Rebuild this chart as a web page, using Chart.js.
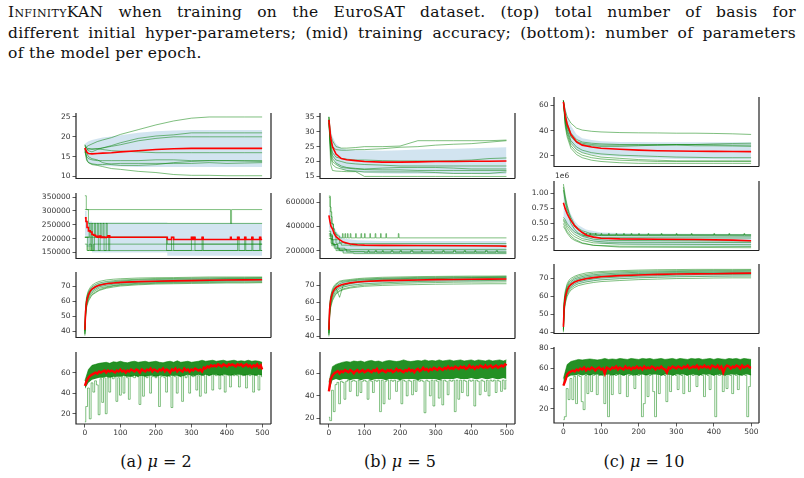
<!DOCTYPE html>
<html>
<head>
<meta charset="utf-8">
<script src="https://cdn.jsdelivr.net/npm/chart.js@4.4.0/dist/chart.umd.min.js"></script>
<style>
body { margin:0; width:804px; height:478px; background:#fff; position:relative; overflow:hidden; font-family:"DejaVu Serif", serif; color:#111; }
#cap { position:absolute; left:8px; top:2px; width:788px; font-size:15.5px; line-height:20.5px; letter-spacing:0.3px; }
#cap div { white-space:nowrap; }
#cap .j { text-align:justify; text-align-last:justify; }
.sc { font-variant:small-caps; }
.sub { position:absolute; top:452px; width:160px; text-align:center; font-size:16px; }
canvas { position:absolute; }
</style>
</head>
<body>
<div id="cap">
  <div class="j"><span class="sc">Infinity</span>KAN when training on the EuroSAT dataset. (top) total number of basis for</div>
  <div class="j">different initial hyper-parameters; (mid) training accuracy; (bottom): number of parameters</div>
  <div>of the model per epoch.</div>
</div>
<div class="sub" style="left:76px">(a) <i>μ</i> = 2</div>
<div class="sub" style="left:320px">(b) <i>μ</i> = 5</div>
<div class="sub" style="left:564px">(c) <i>μ</i> = 10</div>

<script>
//////////////////////////////// epochs \\\\\\\\\\\\\\\\\\\\\\\\\\\\\\\\
var EP = [0,5,10,20,35,50,75,100,150,200,250,300,350,400,450,499];
var EA = [0,2,5,10,15,20,30,40,60,80,100,150,200,250,300,350,400,450,499];
var E5 = [];
for (var i = 0; i < 100; i++) E5.push(i * 5);
E5.push(499);
var E10 = [];
for (i = 0; i < 50; i++) E10.push(i * 10);
E10.push(499);

var xTicks = [0,100,200,300,400,500];

//////////////////////////////// (a) mu = 2 \\\\\\\\\\\\\\\\\\\\\\\\\\\\\\\\
// basis
var a1_mean = [17.2,16.2,15.8,15.7,15.8,15.9,16.0,16.2,16.5,16.8,17.0,17.1,17.1,17.1,17.1,17.1];
var a1_hi = [18.2,18.6,18.9,19.2,19.5,19.8,20.1,20.4,21.0,21.4,21.6,21.7,21.7,21.7,21.7,21.7];
var a1_lo = [16.2,14.2,13.5,13.0,12.8,12.7,12.6,12.5,12.4,12.4,12.4,12.4,12.4,12.4,12.4,12.4];
var a1_runs = [
  [17,17.5,17.8,18.2,18.8,19.2,19.8,20.6,21.8,23,24,24.7,25,25,25,25],
  [17.5,17.2,16.5,16.2,16.8,17.2,17.8,18.5,19.6,20.2,20.5,21,21,21,21,21],
  [18,17.2,17,16.8,17,17.2,17.6,18,19,19.6,20,20,20,20,20,20],
  [16,16.5,17,17,17,16.8,16.5,16.4,16.2,16,16,16,16,16,16,16],
  [17,15,14.5,14.2,14,14,14,14,14,14.2,14.2,14,14,14,13.9,13.8],
  [16.5,14,13.5,13.2,13,13,13.2,13.3,13.3,13.3,13.3,13.3,13.5,13.3,13.4,13.5],
  [17,14.5,13.5,13,12.8,12.5,12,11.8,11.3,11,10.5,10.3,10.3,10.2,10.2,10.2],
  [18,16,15,14.5,14.2,13.5,13,12.8,12.8,13,13.5,13.8,14,14,14,14]
];
// parameters [epoch, value]
var a2_mean = [[0,275000],[3,262000],[6,240000],[10,228000],[15,224000],[20,215000],[25,212000],[30,208000],[35,205000],[40,209000],[45,204000],[50,206000],[55,204000],[60,205000],[65,210000],[70,205000],[232,197000],[244,205000],[250,197000],[300,205000],[303,197000],[307,205000],[310,197000],[330,205000],[333,197000],[410,205000],[412,197000],[430,205000],[434,197000],[450,205000],[453,197000],[470,205000],[473,197000],[492,205000],[495,197000],[499,197000]];
var a2_hi = [[0,300000],[5,262000],[20,258000],[232,256000],[499,255000]];
var a2_lo = [[0,210000],[5,170000],[20,150000],[232,138000],[499,138000]];
var a2_runs = [
  [[0,355000],[4,305000],[410,255000],[413,305000],[499,305000]],
  [[0,305000],[10,255000],[499,255000]],
  [[0,205000],[12,255000],[15,157000],[19,255000],[22,157000],[27,255000],[30,205000],[35,255000],[38,157000],[43,255000],[46,205000],[51,255000],[54,157000],[60,255000],[63,205000],[67,157000],[70,205000],[232,180000],[499,180000]],
  [[0,205000],[8,157000],[12,180000],[18,157000],[24,180000],[499,180000]],
  [[0,180000],[6,157000],[244,205000],[250,157000],[300,205000],[310,157000],[330,205000],[333,157000],[430,205000],[434,157000],[450,205000],[453,157000],[470,205000],[473,157000],[492,205000],[495,157000],[499,157000]],
  [[0,205000],[230,157000],[499,157000]]
];
// training accuracy
var a3_mean = [41,53,60,64,66.5,68,69.5,70.5,71.5,72,72.4,72.9,73.2,73.4,73.6,73.8,74,74.1,74.2];
var a3_hi = [44,56,62.5,66,68,69.5,71,72,73,73.5,73.9,74.4,74.7,74.9,75.1,75.3,75.5,75.6,75.7];
var a3_lo = [38,50,57.5,62,64.5,66,67.5,68.8,69.8,70.4,70.9,71.5,71.8,72,72.2,72.3,72.5,72.6,72.7];
var a3_runs = [
  [42,57,63,67,69,70.5,72,73,74,74.5,74.8,75.3,75.5,75.6,75.8,76,76,76,76],
  [40,55,62,66,68,69.5,71,72,73,73.5,74,74.5,75,75,75.2,75.4,75.5,75.5,75.6],
  [41,54,61,65,67,68.5,70,71,72,72.8,73.3,74,74.3,74.5,74.6,74.8,75,75,75.1],
  [39,53,60,64,66,67.5,69,70.5,71.5,72,72.5,73,73.5,73.8,74,74.3,74.5,74.5,74.6],
  [38,52,59,63,65,66.5,68,69.5,70.5,71.2,71.8,72.5,73,73.2,73.5,73.6,73.8,74,74],
  [40,51,58,62,64,65.5,67,68.5,69.5,70.3,71,71.8,72.3,72.5,72.8,73,73.2,73.3,73.3],
  [37,50,57,61,63,64.5,66,67.5,69,70,70.5,71.3,71.8,72,72.2,72.3,72.5,72.5,72.6],
  [38,49,56,60,62,64,65.5,67,68.5,69.3,70,70.8,71.3,71.5,71.7,71.8,72,72,72.2]
];
// bottom row, every 5 epochs
var a4_mean = [47,52,55,57,58,59,60,59,61,60, 61,62,60,62,61,62,61,60,62,61, 63,61,62,60,62,61,63,62,61,63,
  62,60,63,62,61,63,62,64,61,63, 62,61,63,62,64,61,63,62,60,63, 62,64,61,63,62,61,64,62,63,61,
  63,62,64,63,62,63,61,65,64,66, 65,67,66,67,66,68,67,66,68,67, 66,68,67,68,67,66,68,67,68,66,
  67,68,66,67,65,67,66,68,65,67,63];
var a4_dips = [12,27,45,15,50,41,52,48,19,54, 31,55,20,55,41,56,54,56,32,55, 38,56,40,57,55,34,57,56,55,57,
  56,29,57,37,57,55,57,40,56,57, 55,57,27,56,57,55,41,57,56,26, 57,56,40,57,56,32,57,55,57,40,
  57,56,57,43,57,37,58,57,40,58, 57,58,43,58,57,58,44,58,57,41, 58,57,46,58,57,58,57,46,58,57,
  58,45,58,57,58,41,58,57,43,58,56];
// every 10 epochs
var a4_top = [52,63,67,68,69,69.5,70,69,70.5,70, 71,70,69.5,70.5,71,70,70.5,71,70,70.5, 71,70,69.5,70.5,71,70,71.5,70,70.5,71,
  70,70.5,71,72,71,71.5,72,71,71.5,72, 71,71.5,72,71,71.5,71,72,71,71.5,71,70];
var a4_low = [44,50,53,54,55,55,56,55,56,56, 56,57,56,56,57,56,57,56,57,57, 56,57,57,56,57,57,57,56,57,58,
  57,57,58,57,58,57,58,58,57,58, 58,57,58,58,58,57,58,58,57,58,57];

//////////////////////////////// (b) mu = 5 \\\\\\\\\\\\\\\\\\\\\\\\\\\\\\\\
var b1_mean = [34,28,25,22.5,21,20.6,20.3,20,19.8,19.8,19.9,20,20,20.1,20.1,20.2];
var b1_hi = [35,31,28.5,26,24.5,24,23.8,23.7,23.6,23.8,24,24.2,24.3,24.5,24.6,24.8];
var b1_lo = [33,24.5,21.5,19,17.5,16.8,16.5,16.2,16,15.9,15.9,15.9,15.8,15.8,15.7,15.7];
var b1_runs = [
  [35,29,27,25,24.5,24.5,24.7,25,25,25.2,27,27,27,27,27,27.2],
  [35,27,25,24,23.8,23.8,24,24,24.3,24.8,25,25.5,25.8,26,26.5,27],
  [34,26,23,21.5,21,20.8,20.5,20.5,20.3,20.2,20.2,20.2,20.3,20.5,21,21.2],
  [33,25,22,20.5,20,19.5,19.2,19,18.8,18.5,18.5,18.5,18.5,18.5,18.5,18.5],
  [34,24,21,19.5,18.5,18,17.7,17.5,17.8,18,18,18,17.8,17.5,17.5,17.5],
  [33,23,20,19,18,17.8,17.5,17.3,17.2,17.2,17,17,17,17,17,17],
  [34,22,19,18,17.5,17,16.8,16.5,16.5,16.5,16.5,16.3,16,16,16,16.5],
  [35,19,17,16.8,16.7,16.6,16.6,15,15,15,15,15,15,15,15,15]
];
var b2_mean = [[0,490000],[3,440000],[6,400000],[10,380000],[15,340000],[20,315000],[30,290000],[40,270000],[60,255000],[80,248000],[100,245000],[150,243000],[250,242000],[400,240000],[480,238000],[499,235000]];
var b2_hi = [[0,560000],[5,480000],[10,420000],[20,360000],[40,300000],[80,285000],[150,280000],[499,280000]];
var b2_lo = [[0,400000],[5,300000],[10,250000],[20,210000],[40,185000],[80,175000],[150,173000],[499,172000]];
var b2_runs = [
  [[0,640000],[3,560000],[6,480000],[9,420000],[12,380000],[16,350000],[20,330000],[25,320000],[30,305000],[38,340000],[40,305000],[45,340000],[47,305000],[52,340000],[54,305000],[60,340000],[62,305000],[75,340000],[77,305000],[90,340000],[92,305000],[100,340000],[102,305000],[115,340000],[117,305000],[130,340000],[132,305000],[145,340000],[147,305000],[160,340000],[162,305000],[195,340000],[197,305000],[499,305000]],
  [[0,650000],[4,520000],[8,420000],[13,340000],[20,290000],[30,265000],[45,258000],[499,258000]],
  [[0,360000],[5,320000],[10,290000],[20,260000],[35,245000],[60,240000],[499,240000]],
  [[0,340000],[6,290000],[12,250000],[25,220000],[45,210000],[499,210000]],
  [[0,320000],[6,260000],[15,220000],[30,200000],[60,195000],[499,195000]],
  [[0,300000],[8,240000],[20,200000],[40,180000],[70,175000],[499,175000]],
  [[0,330000],[10,250000],[25,210000],[50,190000],[100,185000],[110,200000],[113,185000],[130,200000],[134,185000],[150,200000],[153,185000],[175,200000],[180,185000],[200,200000],[204,185000],[230,200000],[236,185000],[260,200000],[263,185000],[290,200000],[295,185000],[320,200000],[324,185000],[350,200000],[356,185000],[380,200000],[384,185000],[410,200000],[413,185000],[440,200000],[445,185000],[470,200000],[474,185000],[499,185000]]
];
var b3_mean = [44,56,61.5,65.5,67.5,68.8,70,70.7,71.5,72,72.3,72.8,73,73.2,73.4,73.5,73.6,73.7,73.8];
var b3_hi = [46,58,63.5,67.3,69.3,70.5,71.7,72.4,73.1,73.5,73.8,74.3,74.5,74.7,74.9,75,75.1,75.2,75.3];
var b3_lo = [41,53,59.5,63.5,65.5,67,68,68.8,69.8,70.4,70.8,71.3,71.6,71.8,72,72.1,72.2,72.3,72.4];
var b3_runs = [
  [44,58,64,68,70,71,72.5,73,73.5,74,74.3,74.8,75,75.2,75.3,75.4,75.5,75.5,75.6],
  [43,57,63,67,69,70.5,72,72.5,73,73.5,73.8,74.2,74.5,74.7,74.8,75,75,75.1,75.2],
  [42,56,62,66,68,69.5,71,71.8,72.5,73,73.3,73.8,74,74.2,74.3,74.5,74.6,74.7,74.8],
  [44,55,61,65,67,68.5,63,70,71.5,72.2,72.7,73.3,73.6,73.8,74,74.2,74.3,74.4,74.5],
  [41,54,60,64,66,67.5,69,70,71,71.7,72.2,72.7,73,73.2,73.4,73.5,73.6,73.7,73.8],
  [40,53,59,63,65,66.5,68,69,70,70.5,71,71.5,72,72.3,72.5,72.7,72.8,72.9,73],
  [42,52,58,62,64,65.5,67,68,69,69.7,70.2,70.8,71.2,71.5,71.7,71.9,72,72,72.1],
  [41,51,57,61,63,65,66.5,67.5,68.5,69,69.5,70,70.3,70.5,70.7,70.8,70.9,71,71]
];
var b4_mean = [44,55,58,60,61,62,60,62,61,63, 62,61,63,62,60,62,63,61,62,63, 61,62,63,62,61,63,62,64,61,62,
  63,62,61,63,62,63,61,62,64,62, 63,62,61,63,62,64,62,63,61,63, 64,62,63,65,63,64,62,64,63,65,
  64,63,65,64,63,65,64,66,64,65, 64,66,65,64,66,65,66,64,65,67, 65,66,64,66,65,67,66,65,67,65,
  66,67,65,66,67,65,66,67,66,68,67];
var b4_dips = [21,18,45,26,50,52,33,53,52,37, 53,54,44,53,54,53,40,54,43,53, 54,53,37,54,53,43,54,53,54,26,
  54,33,53,54,37,54,53,54,44,53, 54,33,54,53,40,54,53,41,54,44, 54,53,54,53,25,54,53,40,54,31,
  54,53,38,54,32,54,53,41,54,53, 54,26,54,37,54,43,54,53,40,54, 53,54,31,54,53,41,54,53,44,54,
  40,54,53,54,43,54,53,44,54,46,54];
var b4_top = [52,66,68,69,70,70.5,70,71,70.5,71, 70,71,71.5,70.5,71,70,71,71.5,71,70.5, 71,72,71,70.5,71,71.5,71,72,71,71.5,
  71,72,71,71.5,72,71,71.5,72,71,71.5, 72,71,72,71.5,71,72,71,71.5,72,71,72];
var b4_low = [44,54,55,54,55,55,54,55,55,54, 55,55,54,55,55,55,54,55,55,55, 54,55,55,55,55,54,55,55,55,55,
  55,54,55,55,55,55,56,55,55,55, 56,55,55,56,55,55,56,55,55,56,55];

//////////////////////////////// (c) mu = 10 \\\\\\\\\\\\\\\\\\\\\\\\\\\\\\\\
var c1_mean = [63,52,45,37,31,28.5,27,26,25.2,24.5,24,23.8,23.6,23.5,23.4,23.3];
var c1_hi = [64,58,52,44,37,34,32.5,31.5,31,31,30.8,30.8,30.8,30.7,30.7,30.7];
var c1_lo = [62,46,38,30,25,22.5,21,20.2,19.2,18.3,17.8,17.5,17.3,17.2,17.1,17];
var c1_runs = [
  [64,56,51,46,42,40.5,39.5,39,38.5,38.3,38.2,38,38,37.8,37.5,37],
  [64,52,46,38,33,31,30,29.5,29,29,29,29,29,28.8,28.5,28.5],
  [64,50,44,36,31.5,30,29,28.5,28.5,28.5,28.5,28.5,28,28,27.8,27.5],
  [63,49,43,35,30.5,29,28,27.5,27.5,28,28.5,29,29,29.5,29.8,30],
  [64,48,41,32,27,24.5,22.5,21.5,20.5,20,19.5,19,18.8,18.5,18.5,18.5],
  [63,46,39,30,25,22.5,20.5,19,18,17,16.5,16,16,16,16,16],
  [64,45,37,28,23,20.5,18.5,17.5,16.5,16,15.5,15.5,15.5,15.5,15.5,15.5],
  [63,43,35,26,21,18.5,16.5,15.5,14.5,14,14,14,14,14,14,14]
];
var c2_mean = [[0,840000],[5,740000],[10,660000],[15,600000],[20,550000],[30,460000],[40,400000],[50,350000],[62,305000],[80,275000],[100,255000],[150,245000],[250,240000],[350,235000],[450,225000],[499,215000]];
var c2_hi = [[0,1080000],[5,950000],[10,820000],[20,650000],[30,540000],[40,470000],[60,400000],[100,350000],[200,335000],[499,325000]];
var c2_lo = [[0,600000],[5,530000],[10,480000],[20,400000],[30,340000],[40,300000],[60,240000],[100,160000],[200,140000],[499,120000]];
var c2_runs = [
  [[0,1150000],[5,950000],[10,800000],[15,680000],[20,600000],[30,480000],[40,420000],[50,380000],[70,340000],[100,320000],[499,315000]],
  [[0,1100000],[5,900000],[10,750000],[20,560000],[30,450000],[40,390000],[60,330000],[100,300000],[499,290000]],
  [[0,1050000],[5,850000],[10,700000],[20,500000],[30,400000],[40,340000],[60,290000],[100,265000],[499,260000]],
  [[0,600000],[5,560000],[10,500000],[20,420000],[30,360000],[50,290000],[80,240000],[120,220000],[499,210000]],
  [[0,570000],[5,520000],[10,460000],[20,380000],[30,320000],[50,250000],[80,210000],[120,190000],[499,185000]],
  [[0,550000],[5,480000],[10,420000],[20,330000],[30,280000],[50,220000],[80,180000],[150,160000],[499,150000]],
  [[0,500000],[5,430000],[10,370000],[20,290000],[30,240000],[50,180000],[80,140000],[150,110000],[499,100000]],
  [[0,450000],[5,400000],[10,340000],[20,260000],[30,220000],[50,170000],[80,140000],[150,125000],[499,120000]]
];
var c2_flicker = [[50,305000],[60,335000],[62,305000],[70,335000],[72,305000],[85,335000],[87,305000],[100,335000],[102,305000],[120,335000],[122,305000],[140,335000],[142,305000],[160,335000],[162,305000],[180,335000],[182,305000],[200,335000],[202,305000],[225,335000],[227,305000],[260,335000],[262,305000],[300,335000],[302,305000],[340,335000],[342,305000],[400,335000],[402,305000],[440,335000],[442,305000],[480,335000],[482,305000],[499,305000]];
var c3_mean = [43,54,59.5,63.5,65.5,66.6,68,68.8,69.8,70.4,70.9,71.5,71.9,72.2,72.4,72.5,72.6,72.8,72.9];
var c3_hi = [45,56,61.5,65.5,67.5,68.6,70,70.8,71.8,72.4,72.8,73.4,73.8,74,74.2,74.3,74.4,74.5,74.6];
var c3_lo = [41,52,57.5,61.5,63.5,64.6,66,66.8,67.8,68.4,68.9,69.6,70,70.3,70.6,70.7,70.8,70.9,71];
var c3_runs = [
  [44,58,63,67,69,70,71.2,72,73,73.5,73.8,74.3,74.6,74.8,74.9,75,75,75,75],
  [43,57,62,66,68,69,70.5,71.3,72.2,72.8,73.2,73.7,74,74.2,74.3,74.4,74.5,74.5,74.6],
  [42,56,61,65,67,68.2,69.7,70.5,71.5,72,72.4,73,73.4,73.6,73.8,73.9,74,74,74.1],
  [44,55,60,64,66,67.3,68.8,69.7,70.7,71.3,71.7,72.3,72.7,73,73.2,73.3,73.4,73.5,73.5],
  [41,54,59,63,65,66.3,68,69,70,70.5,71,71.7,72.1,72.4,72.6,72.8,72.9,73,73],
  [40,53,58,62,64,65.5,67,68,69,69.7,70.2,70.8,71.2,71.5,71.8,72,72.1,72.2,72.2],
  [42,52,57,61,63,64.5,66,67,68,68.7,69.2,69.8,70.3,70.6,70.9,71,71.2,71.3,71.3],
  [41,51,56,60,62,63.5,65,66,67,67.7,68.2,68.8,69.3,69.6,69.9,70,70.2,70.3,70.3]
];
var c4_mean = [43,48,54,56,57,58,57,59,58,60, 59,61,58,60,59,61,60,58,60,61, 59,60,55,61,60,59,61,60,62,59,
  61,60,59,62,60,61,59,61,60,62, 60,61,59,62,60,61,60,62,61,59, 61,60,62,60,59,56,61,60,62,61,
  60,62,61,60,62,61,63,60,61,62, 61,63,60,62,61,63,61,62,60,63, 62,61,63,60,62,56,61,63,62,60,
  62,61,63,62,60,63,61,62,63,61,61];
var c4_dips = [9,12,40,29,50,29,52,25,53,52, 27,19,53,35,54,37,53,54,34,53, 54,53,25,54,12,53,34,54,53,54,
  35,54,53,54,32,53,54,53,40,54, 53,54,12,25,54,32,53,54,37,12, 54,35,53,54,53,27,54,37,53,54,
  53,39,54,53,35,54,53,37,54,53, 54,42,53,54,53,32,54,53,39,54, 53,12,54,53,54,37,53,40,54,53,
  35,54,53,39,54,53,54,53,12,42,54];
var c4_top = [50,64,67,68,69,68.5,69,69.5,69,68.5, 69,70,69,69.5,69,70,69.5,69,70,69.5, 69,70,69.5,70,69,69.5,70,69,69.5,70,
  69,70,69.5,69,70,69.5,70,69,69.5,70, 69,70,69.5,69,70,69.5,70,69,70,69.5,69];
var c4_low = [42,51,53,53,54,53,54,53,54,54, 53,54,54,53,54,54,53,54,54,53, 54,54,53,54,54,54,53,54,54,53,
  54,54,54,53,54,54,53,54,54,54, 53,54,54,53,54,54,54,53,54,54,53];

//////////////////////////////// helpers \\\\\\\\\\\\\\\\\\\\\\\\\\\\\\\\
var GREEN = 'rgba(0,128,0,0.5)';
var RED = '#ff0000';
var BAND = 'rgba(31,119,180,0.2)';
var NONE = 'rgba(0,0,0,0)';
var YW = 48;

function xy(xs, ys) { return ys.map(function (v, k) { return {x: xs[k], y: v}; }); }
function pr(p) { return p.map(function (q) { return {x: q[0], y: q[1]}; }); }

function redLine(d, w) { return {data: d, borderColor: RED, borderWidth: w || 1.6}; }
function greenLine(d, st) { return {data: d, borderColor: GREEN, borderWidth: 1, stepped: !!st}; }
function band(hi, lo, st) {
  return [
    {data: hi, borderColor: NONE, borderWidth: 1, backgroundColor: BAND, fill: '+1', stepped: !!st},
    {data: lo, borderColor: NONE, borderWidth: 1, fill: false, stepped: !!st}
  ];
}

function smooth(xs, mean, runs, hi, lo) {
  var ds = [redLine(xy(xs, mean))];
  runs.forEach(function (r) { ds.push(greenLine(xy(xs, r))); });
  return ds.concat(band(xy(xs, hi), xy(xs, lo)));
}

// dips are drawn as narrow steps so they read as spikes
function noisy(mean, dips, top, low) {
  return [
    redLine(xy(E5, mean), 2.4),
    {data: xy(E5, dips), borderColor: 'rgba(0,128,0,0.5)', borderWidth: 1, stepped: 'middle'},
    {data: xy(E10, top), borderColor: 'rgba(0,128,0,0.55)', borderWidth: 1, backgroundColor: 'rgba(0,126,0,0.86)', fill: '+1'},
    {data: xy(E10, low), borderColor: NONE, borderWidth: 1, fill: false}
  ];
}

function spines(off) {
  return {
    id: 'spines',
    afterDatasetsDraw: function (c) {
      var a = c.chartArea, g = c.ctx;
      g.save();
      g.strokeStyle = '#222';
      g.lineWidth = 1.2;
      g.beginPath();
      g.moveTo(a.left, a.top); g.lineTo(a.left, a.bottom); g.lineTo(a.right, a.bottom);
      g.moveTo(a.right, a.top); g.lineTo(a.right, a.bottom);
      g.stroke();
      if (off) {
        g.fillStyle = '#333';
        g.font = '7.5px "DejaVu Sans"';
        g.textBaseline = 'bottom';
        g.fillText(off, a.left + 1, a.top - 1);
      }
      g.restore();
    }
  };
}

// box = [left, top, right, bottom] of the plot area
function panel(box, xr, yr, yticks, showX, datasets, fmt, off) {
  var xh = showX ? 16 : 0;
  var cv = document.createElement('canvas');
  cv.width = box[2] - box[0] + YW + 6;
  cv.height = box[3] - box[1] + 10 + xh;
  cv.style.left = (box[0] - YW) + 'px';
  cv.style.top = (box[1] - 10) + 'px';
  document.body.appendChild(cv);
  var tf = {family: 'DejaVu Sans', size: 7.5};
  new Chart(cv, {
    type: 'line',
    data: {datasets: datasets},
    options: {
      responsive: false,
      animation: false,
      layout: {padding: {top: 10, right: 6, left: 0, bottom: 0}},
      elements: {point: {radius: 0}, line: {tension: 0}},
      plugins: {legend: {display: false}, tooltip: {enabled: false}},
      scales: {
        x: {
          type: 'linear', min: xr[0], max: xr[1],
          afterFit: function (s) { s.height = xh; },
          afterBuildTicks: function (s) { s.ticks = xTicks.map(function (v) { return {value: v}; }); },
          grid: {display: showX, drawOnChartArea: false, tickLength: 3.5, color: '#333', lineWidth: 0.8},
          border: {display: false},
          ticks: {display: showX, font: tf, color: '#333', padding: 1, maxRotation: 0, autoSkip: false}
        },
        y: {
          min: yr[0], max: yr[1],
          afterFit: function (s) { s.width = YW; },
          afterBuildTicks: function (s) { s.ticks = yticks.map(function (v) { return {value: v}; }); },
          grid: {drawOnChartArea: false, tickLength: 3.5, color: '#333', lineWidth: 0.8},
          border: {display: false},
          ticks: {font: tf, color: '#333', padding: 2, autoSkip: false,
            callback: fmt || function (v) { return String(v); }}
        }
      }
    },
    plugins: [spines(off)]
  });
}

//////////////////////////////// panels \\\\\\\\\\\\\\\\\\\\\\\\\\\\\\\\
var XA = [-25, 524], XB = [-25, 523], XC = [-25, 520];

// column (a)
panel([76,113,271,185], XA, [9.5,26], [10,15,20,25], false, smooth(EP, a1_mean, a1_runs, a1_hi, a1_lo));
var a2set = [redLine(pr(a2_mean))];
a2set[0].stepped = true;
a2_runs.forEach(function (r) { a2set.push(greenLine(pr(r), true)); });
panel([76,193,271,265], XA, [128000,365000], [150000,200000,250000,300000,350000], false, a2set.concat(band(pr(a2_hi), pr(a2_lo), true)));
panel([76,272,271,344], XA, [35.8,79.3], [40,50,60,70], false, smooth(EA, a3_mean, a3_runs, a3_hi, a3_lo));
panel([76,352,271,424], XA, [10,80], [20,40,60], true, noisy(a4_mean, a4_dips, a4_top, a4_low));

// column (b)
panel([320,113,515,185], XB, [14.3,36.3], [15,20,25,30,35], false, smooth(EP, b1_mean, b1_runs, b1_hi, b1_lo));
var b2set = [redLine(pr(b2_mean))];
b2_runs.forEach(function (r) { b2set.push(greenLine(pr(r), true)); });
panel([320,193,515,265], XB, [135000,675000], [200000,400000,600000], false, b2set.concat(band(pr(b2_hi), pr(b2_lo))));
panel([320,272,515,345], XB, [38.8,77.9], [40,50,60,70], false, smooth(EA, b3_mean, b3_runs, b3_hi, b3_lo));
panel([320,352,515,424], XB, [15,79], [20,40,60], true, noisy(b4_mean, b4_dips, b4_top, b4_low));

// column (c)
panel([554,97,759,173], XC, [11.5,66.8], [20,40,60], false, smooth(EP, c1_mean, c1_runs, c1_hi, c1_lo));
var c2set = [redLine(pr(c2_mean))];
c2_runs.forEach(function (r) { c2set.push(greenLine(pr(r))); });
c2set.push(greenLine(pr(c2_flicker), true));
panel([554,181,759,257], XC, [54000,1200000], [250000,500000,750000,1000000], false,
  c2set.concat(band(pr(c2_hi), pr(c2_lo))),
  function (v) { return (v / 1e6).toFixed(2); }, '1e6');
panel([554,264,759,340], XC, [39.3,78], [40,50,60,70], false, smooth(EA, c3_mean, c3_runs, c3_hi, c3_lo));
panel([554,347,759,423], XC, [5.7,81.4], [20,40,60,80], true, noisy(c4_mean, c4_dips, c4_top, c4_low));
</script>
</body>
</html>
